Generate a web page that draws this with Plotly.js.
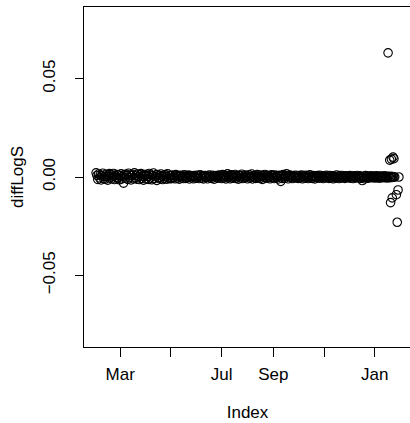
<!DOCTYPE html>
<html><head><meta charset="utf-8">
<script src="https://cdn.plot.ly/plotly-3.0.1.min.js"></script>
<style>html,body{margin:0;padding:0;overflow:hidden;background:#fff}</style>
</head><body><div id="plot"></div>
<script>
// Daily index start for the regular (dense) part of the series
const startDate = "2013-01-31";
// diffLogS values, one per day from startDate (through 2014-01-24)
const bandValues = [
 0.0021,
 // Feb
 0.0008,-0.0012,0.0015,-0.0004,0.0011,-0.0015,0.0006,0.0019,-0.0008,0.0003,-0.0011,0.0014,0.0002,-0.0016,0.0009,0.0017,-0.0005,0.0012,-0.0009,0.0004,0.0018,-0.0013,0.0007,-0.0002,0.0013,-0.0007,0.0010,-0.0014,
 // Mar
 0.0005,0.0016,-0.0010,0.0003,-0.0031,0.0012,-0.0006,0.0014,0.0008,-0.0012,0.0019,-0.0003,0.0010,-0.0015,0.0006,0.0013,-0.0009,0.0021,-0.0004,0.0009,-0.0011,0.0015,0.0002,-0.0013,0.0011,0.0017,-0.0007,0.0004,-0.0016,0.0012,0.0007,
 // Apr
 -0.0009,0.0014,0.0003,-0.0012,0.0018,-0.0005,0.0010,-0.0014,0.0006,0.0020,-0.0008,0.0002,0.0011,-0.0017,0.0013,-0.0003,0.0008,-0.0010,0.0015,0.0004,-0.0013,0.0009,-0.0006,0.0012,0.0001,-0.0011,0.0016,-0.0004,0.0007,-0.0009,
 // May
 0.0006,-0.0008,0.0010,-0.0003,0.0005,-0.0009,0.0012,0.0002,-0.0006,0.0008,-0.0011,0.0004,0.0009,-0.0005,0.0001,-0.0008,0.0011,0.0003,-0.0007,0.0006,-0.0002,0.0010,-0.0010,0.0005,0.0008,-0.0004,0.0002,-0.0009,0.0007,0.0003,-0.0006,
 // Jun
 0.0009,-0.0003,0.0005,-0.0008,0.0011,0.0001,-0.0006,0.0007,-0.0010,0.0004,0.0008,-0.0002,0.0006,-0.0009,0.0003,0.0010,-0.0005,0.0002,-0.0007,0.0009,0.0004,-0.0011,0.0006,-0.0001,0.0008,-0.0006,0.0003,0.0010,-0.0004,0.0005,
 // Jul
 -0.0008,0.0012,0.0002,-0.0005,0.0009,-0.0010,0.0004,0.0016,-0.0003,0.0007,-0.0009,0.0011,0.0001,-0.0006,0.0008,-0.0002,0.0013,-0.0007,0.0005,0.0003,-0.0011,0.0009,-0.0004,0.0006,0.0014,-0.0008,0.0002,-0.0005,0.0010,-0.0001,0.0007,
 // Aug
 -0.0009,0.0004,0.0011,-0.0006,0.0002,0.0015,-0.0010,0.0006,-0.0003,0.0009,-0.0007,0.0003,0.0012,-0.0005,0.0001,-0.0008,0.0010,0.0004,-0.0012,0.0007,-0.0002,0.0013,-0.0006,0.0005,0.0009,-0.0004,0.0002,-0.0009,0.0008,0.0011,-0.0003,
 // Sep
 0.0006,-0.0008,0.0010,0.0001,-0.0005,0.0007,-0.0010,0.0004,0.0009,-0.0022,0.0005,-0.0007,0.0012,0.0002,-0.0006,0.0008,0.0016,0.0003,-0.0009,0.0006,0.0010,-0.0002,0.0004,-0.0008,0.0007,0.0001,-0.0005,0.0009,-0.0003,0.0005,
 // Oct
 -0.0007,0.0008,0.0002,-0.0004,0.0010,-0.0009,0.0005,0.0003,-0.0006,0.0009,-0.0002,0.0006,-0.0008,0.0004,0.0011,-0.0005,0.0001,-0.0007,0.0008,0.0003,-0.0010,0.0006,-0.0003,0.0007,0.0002,-0.0006,0.0009,-0.0004,0.0005,0.0001,-0.0008,
 // Nov
 0.0006,0.0003,-0.0005,0.0009,-0.0002,0.0004,-0.0007,0.0008,0.0001,-0.0004,0.0006,-0.0009,0.0005,0.0002,-0.0006,0.0010,-0.0003,0.0004,-0.0008,0.0007,0.0000,-0.0005,0.0008,-0.0002,0.0003,-0.0007,0.0006,0.0002,-0.0004,0.0005,
 // Dec
 -0.0003,0.0007,-0.0006,0.0002,0.0004,-0.0008,0.0006,-0.0001,0.0003,-0.0005,0.0008,0.0001,-0.0004,0.0006,-0.0007,0.0002,-0.0018,-0.0003,0.0004,-0.0009,0.0007,-0.0002,0.0003,-0.0006,0.0005,0.0001,-0.0004,0.0006,-0.0002,0.0003,-0.0005,
 // Jan 1-24
 0.0004,-0.0003,0.0006,-0.0005,0.0002,0.0003,-0.0006,0.0005,-0.0001,0.0004,-0.0004,0.0002,0.0006,-0.0003,0.0001,-0.0005,0.0003,0.0002,-0.0004,0.0001,0.0003,-0.0002,0.0001,0.0000
];
// Late-January volatile observations
const spikeDates = ["2014-01-17","2014-01-19","2014-01-20","2014-01-21","2014-01-22","2014-01-23","2014-01-24","2014-01-25","2014-01-27","2014-01-28","2014-01-29","2014-01-30"];
const spikeValues = [0.0631,0.0086,-0.0130,0.0091,-0.0106,0.0101,0.0093,0.0000,-0.0090,-0.0230,-0.0066,0.0000];
// Axis ticks
const xTickVals = ["2013-03-01","2013-05-01","2013-07-01","2013-09-01","2013-11-01","2014-01-01"];
const xTickText = ["Mar","","Jul","Sep","","Jan"];
const yTickVals = [-0.05, 0, 0.05];
const yTickText = ["\u22120.05","0.00","0.05"];
const yLimits = [-0.08, 0.08];

const DAY = 86400000;
const t0 = Date.parse(startDate + "T00:00:00Z");
const iso = ms => new Date(ms).toISOString().slice(0,10);
const xs = bandValues.map((_, i) => iso(t0 + i * DAY)).concat(spikeDates);
const ys = bandValues.concat(spikeValues);

// R-style 4% axis extension
const ms = xs.map(d => Date.parse(d + "T00:00:00Z"));
const xmin = Math.min(...ms), xmax = Math.max(...ms);
const xext = (xmax - xmin) * 0.04;
const fmt = v => new Date(v).toISOString().replace("T"," ").slice(0,19);
const yext = (yLimits[1] - yLimits[0]) * 0.04;

const font = {family: "Liberation Sans, Arial, Helvetica, sans-serif", size: 17, color: "#000"};

Plotly.newPlot("plot", [{
  x: xs, y: ys, type: "scatter", mode: "markers",
  marker: {symbol: "circle-open", size: 8.5, color: "#000", line: {width: 1.1, color: "#000"}},
  hoverinfo: "skip"
}], {
  width: 420, height: 423,
  margin: {l: 84, r: 9, t: 7, b: 76},
  paper_bgcolor: "#fff", plot_bgcolor: "#fff",
  showlegend: false,
  font: font,
  xaxis: {
    type: "date", range: [fmt(xmin - xext), fmt(xmax + xext)],
    tickmode: "array", tickvals: xTickVals, ticktext: xTickText,
    ticks: "outside", ticklen: 9, tickwidth: 1, tickcolor: "#000",
    showline: true, mirror: true, linecolor: "#000", linewidth: 1,
    showgrid: false, zeroline: false,
    tickfont: font, ticklabelstandoff: 3,
    title: {text: "Index", font: font, standoff: 22}
  },
  yaxis: {
    range: [yLimits[0] - yext, yLimits[1] + yext],
    tickmode: "array", tickvals: yTickVals, ticktext: yTickText,
    tickangle: -90,
    ticks: "outside", ticklen: 8, tickwidth: 1, tickcolor: "#000",
    showline: true, mirror: true, linecolor: "#000", linewidth: 1,
    showgrid: false, zeroline: false,
    tickfont: font, ticklabelstandoff: 13,
    title: {text: "diffLogS", font: font, standoff: 12}
  }
}, {staticPlot: true, displayModeBar: false});
</script></body></html>
